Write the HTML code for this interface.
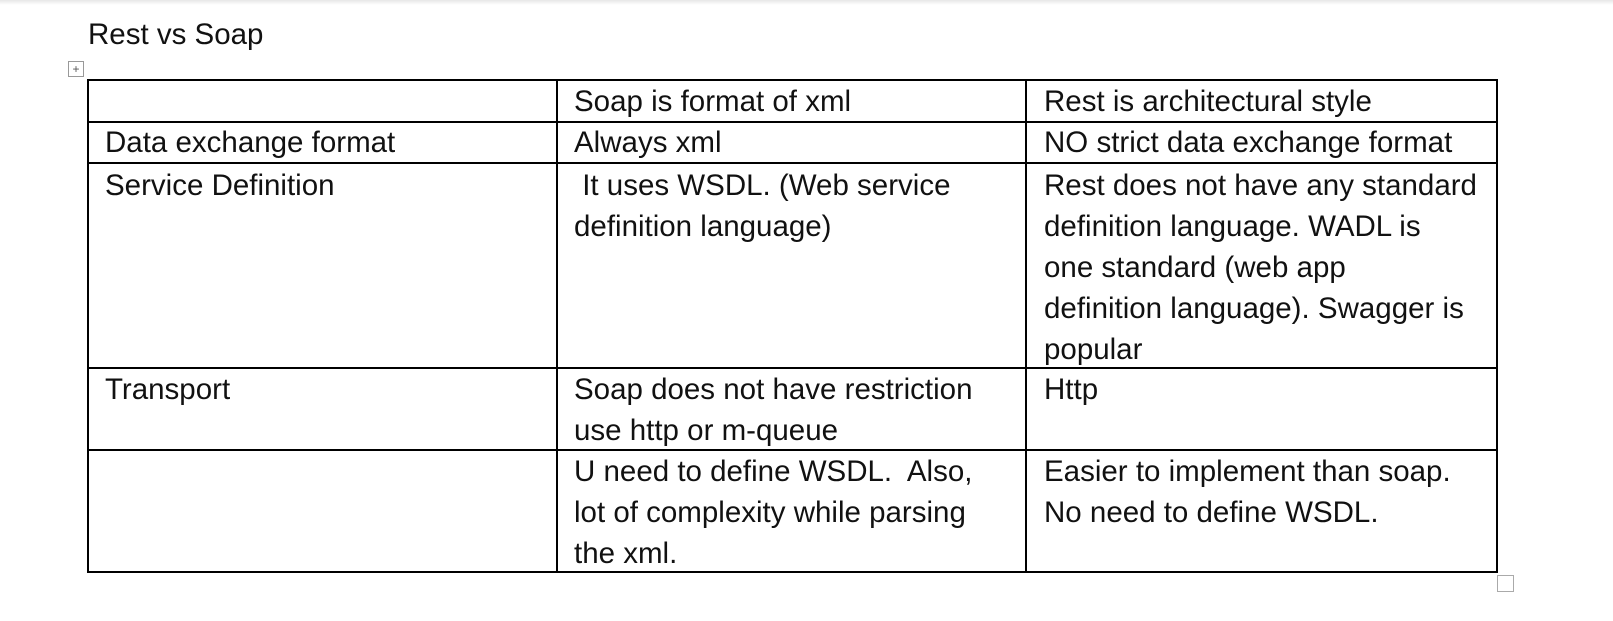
<!DOCTYPE html>
<html><head><meta charset="utf-8"><style>
body{margin:0;width:1613px;height:621px;background:#fff;position:relative;overflow:hidden;font-family:"Liberation Sans",sans-serif;color:#111}
.t{position:absolute;font-size:29.5px;line-height:41px;white-space:nowrap}
.h{position:absolute;background:#000;height:2px}
.v{position:absolute;background:#000;width:2px}
</style></head><body>
<div style="position:absolute;left:0;top:0;width:1613px;height:5px;background:linear-gradient(#e6e6e6,#fff)"></div>
<div class="t" style="left:88px;top:14px">Rest vs Soap</div>
<div style="position:absolute;left:68px;top:61px;width:14px;height:14px;border:1px solid #999;font-size:12px;line-height:14px;text-align:center;color:#555">+</div>
<div class="h" style="left:87px;top:79px;width:1411px"></div>
<div class="h" style="left:87px;top:121px;width:1411px"></div>
<div class="h" style="left:87px;top:162px;width:1411px"></div>
<div class="h" style="left:87px;top:367px;width:1411px"></div>
<div class="h" style="left:87px;top:449px;width:1411px"></div>
<div class="h" style="left:87px;top:571px;width:1411px"></div>
<div class="v" style="left:87px;top:79px;height:494px"></div>
<div class="v" style="left:556px;top:79px;height:494px"></div>
<div class="v" style="left:1025px;top:79px;height:494px"></div>
<div class="v" style="left:1496px;top:79px;height:494px"></div>
<div style="position:absolute;left:1497px;top:164px;width:1px;height:42px;background:#000"></div>
<div style="position:absolute;left:1497px;top:575px;width:15px;height:15px;border:1px solid #aaa"></div>

<div class="t" style="left:574px;top:81px">Soap is format of xml</div>
<div class="t" style="left:1044px;top:81px">Rest is architectural style</div>

<div class="t" style="left:105px;top:122px">Data exchange format</div>
<div class="t" style="left:574px;top:122px">Always xml</div>
<div class="t" style="left:1044px;top:122px">NO strict data exchange format</div>

<div class="t" style="left:105px;top:165px">Service Definition</div>
<div class="t" style="left:574px;top:165px">&nbsp;It uses WSDL. (Web service<br>definition language)</div>
<div class="t" style="left:1044px;top:165px">Rest does not have any standard<br>definition language. WADL is<br>one standard (web app<br>definition language). Swagger is<br>popular</div>

<div class="t" style="left:105px;top:369px">Transport</div>
<div class="t" style="left:574px;top:369px">Soap does not have restriction<br>use http or m-queue</div>
<div class="t" style="left:1044px;top:369px">Http</div>

<div class="t" style="left:574px;top:451px">U need to define WSDL.&nbsp; Also,<br>lot of complexity while parsing<br>the xml.</div>
<div class="t" style="left:1044px;top:451px">Easier to implement than soap.<br>No need to define WSDL.</div>
</body></html>
